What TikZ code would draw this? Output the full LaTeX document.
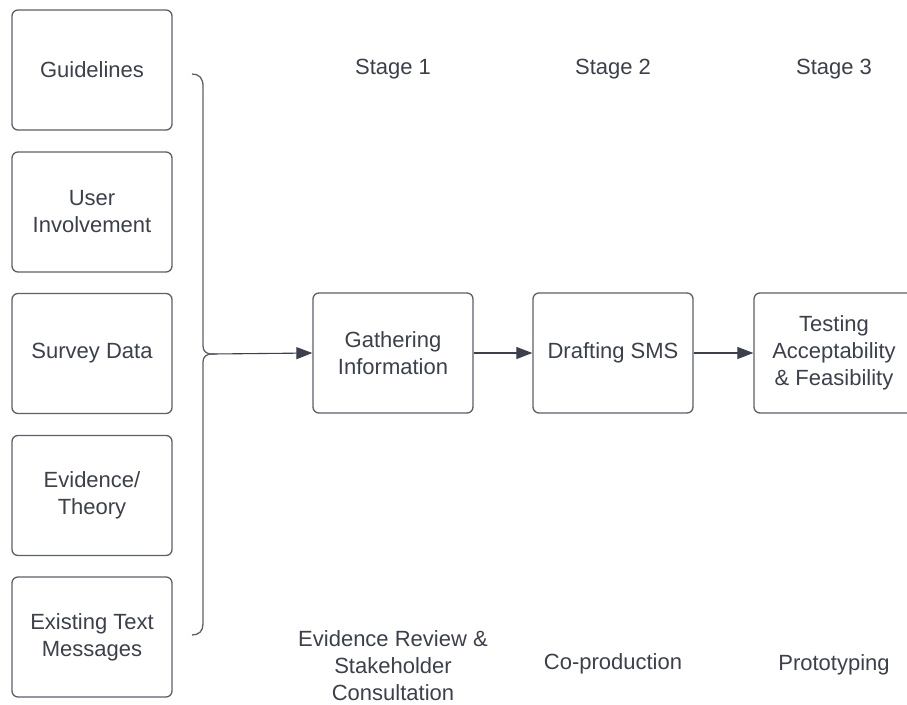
\documentclass[tikz,border=0pt]{standalone}
\usepackage{fontspec}
\setmainfont{Liberation Sans}
\usetikzlibrary{arrows.meta}
\definecolor{ink}{HTML}{3B404C}
\definecolor{edge}{HTML}{5C6069}
\tikzset{
  card/.style={draw=edge, line width=1.3pt, rounded corners=6pt, minimum width=160pt,
    minimum height=120pt, align=center, text=ink, font=\fontsize{22}{27}\selectfont, inner sep=2pt},
  label/.style={text=ink, align=center, font=\fontsize{22}{27}\selectfont, inner sep=0pt},
  flow/.style={draw=ink, line width=1.1pt, -{Triangle[length=16pt, width=12pt]}},
}
\begin{document}
\begin{tikzpicture}[x=1pt, y=-1pt]
\clip (0,0) rectangle (907,704);
\fill[white] (0,0) rectangle (907,704);

% input sources
\node[card] (guide)  at (92,70)    {Guidelines};
\node[card] (user)   at (92,212)   {User\\Involvement};
\node[card] (survey) at (92,353.5) {Survey Data};
\node[card] (theory) at (92,495.5) {Evidence/\\Theory};
\node[card] (sms)    at (92,637)   {Existing Text\\Messages};

% stages
\node[card] (gather) at (393,353) {Gathering\\Information};
\node[card] (draft)  at (613,353) {Drafting SMS};
\node[card] (test)   at (834,353) {Testing\\Acceptability\\\& Feasibility};

% stage headings
\node[label] (s1) at (393,69) {Stage 1};
\node[label] (s2) at (613,69) {Stage 2};
\node[label] (s3) at (834,69) {Stage 3};

% stage descriptions
\node[label] (d1) at (393,666) {Evidence Review \&\\Stakeholder\\Consultation};
\node[label] (d2) at (613,664) {Co-production};
\node[label] (d3) at (834,665) {Prototyping};

% brace collecting the sources
\coordinate (tip) at (212,354);
\draw[edge, line width=1.3pt]
  (192,74) .. controls (199,74) and (203,78) .. (203,86) -- (203,346)
  .. controls (203,351) and (206,354) .. (tip)
  .. controls (206,354) and (203,357) .. (203,362) -- (203,624)
  .. controls (203,631) and (199,635) .. (192,635);

% flow
\draw[flow] (tip) -- (gather.west);
\draw[flow] (gather.east) -- (draft.west);
\draw[flow] (draft.east) -- (test.west);
\end{tikzpicture}
\end{document}
